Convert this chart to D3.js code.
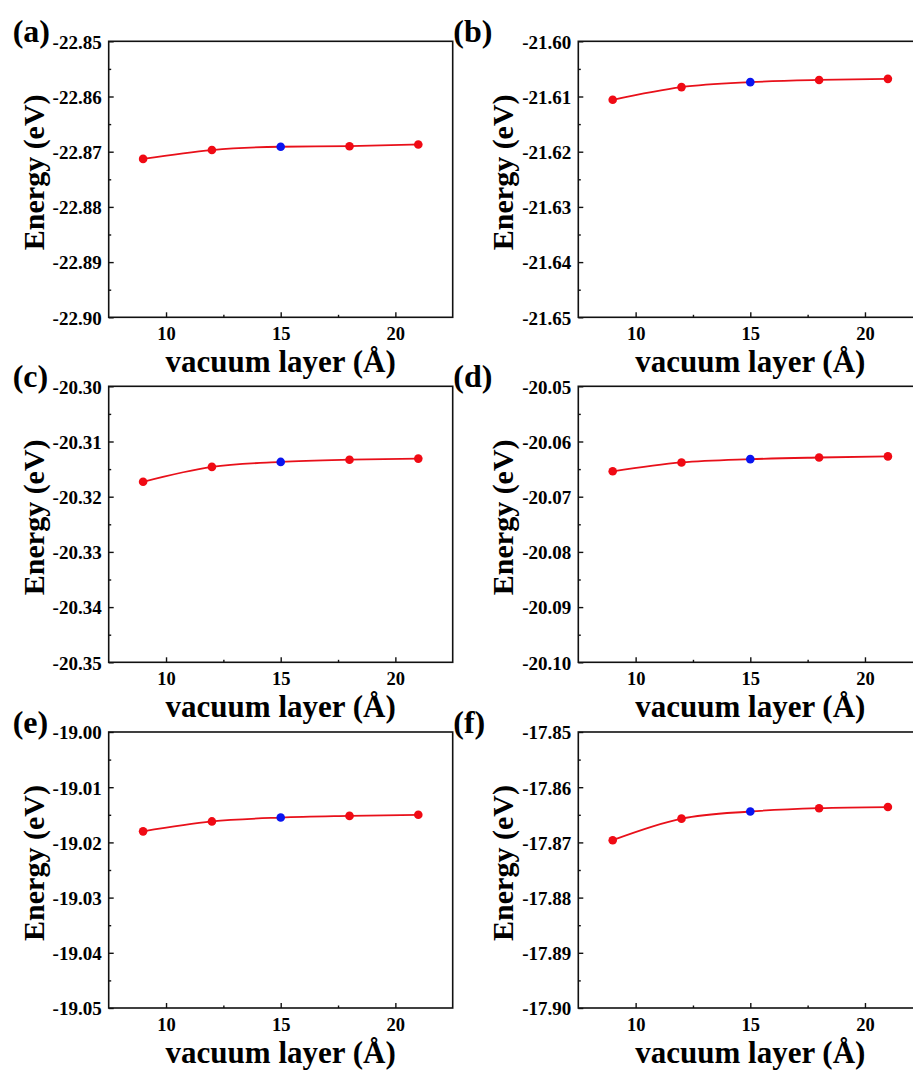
<!DOCTYPE html>
<html>
<head>
<meta charset="utf-8">
<script src="https://cdn.jsdelivr.net/npm/d3@7"></script>
<style>
  html, body { margin: 0; padding: 0; background: #fff; overflow: hidden; }
  svg { display: block; }
</style>
</head>
<body>
<svg id="chart" width="913" height="1071"></svg>
<script>
// Vacuum-layer convergence: total energy vs vacuum thickness for six systems
const vacuum = [9, 12, 15, 18, 21];
const panelLabels = ["(a)", "(b)", "(c)", "(d)", "(e)", "(f)"];

const energyA = [-22.8713, -22.8697, -22.8691, -22.8690, -22.8687];
const energyB = [-21.6106, -21.6083, -21.6074, -21.6070, -21.6068];
const energyC = [-20.3173, -20.3146, -20.3137, -20.3133, -20.3131];
const energyD = [-20.0654, -20.0638, -20.0632, -20.0629, -20.0627];
const energyE = [-19.0180, -19.0162, -19.0155, -19.0152, -19.0150];
const energyF = [-17.8696, -17.8657, -17.8644, -17.8638, -17.8636];

const yRanges = [
  [-22.90, -22.85], [-21.65, -21.60],
  [-20.35, -20.30], [-20.10, -20.05],
  [-19.05, -19.00], [-17.90, -17.85]
];
const xRange = [7.5, 22.5];
const xTicks = [10, 15, 20];
const xMinorTicks = [12.5, 17.5];
const chosenVacuum = 15;   // the thickness adopted, marked in blue

const xTitle = "vacuum layer (Å)";
const yTitle = "Energy (eV)";

const series = [energyA, energyB, energyC, energyD, energyE, energyF];

const FONT = "'Liberation Serif', Tinos, 'Times New Roman', Times, 'DejaVu Serif', serif";

// layout
const colLeft = [108.7, 578.3];
const rowTop = [41.3, 386.3, 732];
const W = 344, H = 276;

const svg = d3.select("#chart");

function styleText(sel, size) {
  sel.attr("font-family", null)
    .style("font-family", FONT)
    .style("font-weight", "bold")
    .style("font-size", size + "px")
    .attr("fill", "#000");
}

series.forEach((vals, i) => {
  const col = i % 2, row = Math.floor(i / 2);
  const g = svg.append("g")
    .attr("transform", `translate(${colLeft[col]},${rowTop[row]})`);

  const x = d3.scaleLinear().domain(xRange).range([0, W]);
  const y = d3.scaleLinear().domain(yRanges[i]).range([H, 0]);

  const [y0] = yRanges[i];
  const yMajor = d3.range(0, 6).map(k => +(y0 + k * 0.01).toFixed(2));
  const yMinor = d3.range(0, 5).map(k => +(y0 + k * 0.01 + 0.005).toFixed(3));

  // x axis (ticks pointing inward)
  const gx = g.append("g").attr("transform", `translate(0,${H})`)
    .call(d3.axisBottom(x).tickValues(xTicks).tickSizeInner(-5).tickSizeOuter(0)
      .tickPadding(9).tickFormat(d3.format("d")));
  gx.attr("font-family", null);
  gx.select(".domain").remove();
  gx.selectAll("line").attr("stroke", "#111").attr("stroke-width", 1.4);
  gx.selectAll("text").call(styleText, 18.5).attr("dy", "0.76em");

  const gxm = g.append("g").attr("transform", `translate(0,${H})`)
    .call(d3.axisBottom(x).tickValues(xMinorTicks).tickSizeInner(-2.5).tickSizeOuter(0).tickFormat(""));
  gxm.select(".domain").remove();
  gxm.selectAll("line").attr("stroke", "#111").attr("stroke-width", 1.4);

  // y axis
  const gy = g.append("g")
    .call(d3.axisLeft(y).tickValues(yMajor).tickSizeInner(-5).tickSizeOuter(0)
      .tickPadding(7).tickFormat(d => d3.format(".2f")(d).replace("−", "-")));
  gy.attr("font-family", null);
  gy.select(".domain").remove();
  gy.selectAll("line").attr("stroke", "#111").attr("stroke-width", 1.4);
  gy.selectAll("text").call(styleText, 19).attr("dy", "0.36em");

  const gym = g.append("g")
    .call(d3.axisLeft(y).tickValues(yMinor).tickSizeInner(-2.5).tickSizeOuter(0).tickFormat(""));
  gym.select(".domain").remove();
  gym.selectAll("line").attr("stroke", "#111").attr("stroke-width", 1.4);

  // frame
  g.append("rect").attr("width", W).attr("height", H)
    .attr("fill", "none").attr("stroke", "#111").attr("stroke-width", 1.6);

  const pts = vacuum.map((v, k) => ({ v, e: vals[k] }));

  // smooth connecting curve
  g.append("path").datum(pts)
    .attr("fill", "none").attr("stroke", "#e8101a").attr("stroke-width", 1.8)
    .attr("d", d3.line().x(d => x(d.v)).y(d => y(d.e)).curve(d3.curveMonotoneX));

  // markers
  g.selectAll("circle.pt").data(pts).join("circle")
    .attr("class", "pt")
    .attr("cx", d => x(d.v)).attr("cy", d => y(d.e)).attr("r", 4.3)
    .attr("fill", d => d.v === chosenVacuum ? "#0a14f0" : "#f00a14");

  // axis titles
  g.append("text").attr("x", W / 2).attr("y", H + 55)
    .attr("text-anchor", "middle").call(styleText, 31).text(xTitle);
  g.append("text").attr("transform", `translate(-65,${H / 2 - 7}) rotate(-90)`)
    .attr("text-anchor", "middle").call(styleText, 30).text(yTitle);

  // panel label
  g.append("text").attr("x", col === 0 ? -96 : -125).attr("y", 0.5)
    .call(styleText, 32).text(panelLabels[i]);
});
</script>
</body>
</html>
